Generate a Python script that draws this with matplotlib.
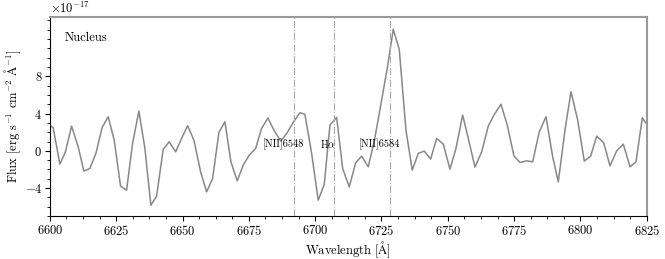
import matplotlib
matplotlib.use("Agg")
import matplotlib.pyplot as plt
import numpy as np
from matplotlib.ticker import AutoMinorLocator, MultipleLocator

plt.rcParams['font.family'] = 'serif'
plt.rcParams['font.serif'] = ['cmr10', 'DejaVu Serif']
plt.rcParams['mathtext.fontset'] = 'cm'
plt.rcParams['axes.formatter.use_mathtext'] = True
plt.rcParams['font.size'] = 9

# spectrum (flux in units of 1e-17)
wave = [6598.87, 6601.24, 6603.77, 6605.84, 6608.18, 6610.67, 6612.82, 6615.08,
        6617.35, 6619.72, 6621.98, 6624.25, 6626.66, 6628.92, 6631.18, 6633.56,
        6635.82, 6638.08, 6640.23, 6642.72, 6644.98, 6647.40, 6649.66, 6651.92,
        6654.30, 6656.83, 6659.09, 6661.35, 6663.73, 6665.99, 6668.25, 6670.63,
        6672.89, 6675.15, 6677.56, 6679.83, 6682.20, 6684.65, 6687.10, 6689.37,
        6691.82, 6694.27, 6696.15, 6698.68, 6701.17, 6703.43, 6705.58, 6708.11,
        6710.37, 6712.86, 6715.27, 6717.53, 6720.02, 6722.36, 6724.81, 6727.26,
        6729.45, 6731.71, 6734.24, 6736.61, 6738.88, 6741.14, 6743.55, 6745.81,
        6748.30, 6750.83, 6753.09, 6755.62, 6757.73, 6760.26, 6762.78, 6765.27,
        6767.42, 6770.06, 6772.44, 6774.96, 6777.22, 6779.75, 6782.01, 6784.50,
        6787.03, 6789.56, 6791.67, 6794.19, 6796.46, 6798.98, 6801.47, 6803.88,
        6806.15, 6808.79, 6811.16, 6813.69, 6816.18, 6818.70, 6820.97, 6823.34,
        6825.71]
flux = [2.98, 2.49, -1.43, -0.14, 2.66, 0.43, -2.18, -1.89,
        -0.28, 2.52, 3.66, 1.15, -3.80, -4.23, 0.80, 4.27,
        0.26, -5.84, -4.87, 0.15, 0.97, -0.11, 1.33, 2.69,
        1.15, -2.26, -4.41, -2.97, 1.98, 3.12, -1.18, -3.23,
        -1.54, -0.46, 0.26, 2.41, 3.52, 2.12, 1.04, 1.90,
        3.09, 4.09, 3.91, -0.28, -5.30, -3.61, 2.76, 3.59,
        -1.89, -3.87, -1.29, -0.57, -1.72, 1.15, 5.02, 9.00,
        13.05, 10.90, 2.23, -2.08, -0.28, -0.03, -0.89, 1.33,
        0.72, -1.97, 0.26, 3.84, 1.33, -1.75, -0.11, 2.66,
        3.84, 4.99, 2.76, -0.57, -1.25, -1.08, -1.18, 2.04,
        3.66, -0.65, -3.33, 2.23, 6.34, 3.30, -1.11, -0.57,
        1.58, 0.86, -1.61, 0.00, 0.72, -1.72, -1.18, 3.55,
        2.55]

z = 0.0220
line_rest = [6548.05, 6562.80, 6583.45]
line_names = ['[NII]6548', r'H$\alpha$', '[NII]6584']
label_shift = [-4.0, -2.5, -4.0]

wave = np.array(wave)
flux = np.array(flux) * 1e-17

fig = plt.figure(figsize=(6.65, 2.59), dpi=100)
ax = fig.add_axes([0.075, 0.166, 0.8975, 0.7695])

ax.plot(wave, flux, color='#888888', lw=1.1)

for lam, name, dx in zip(line_rest, line_names, label_shift):
    lobs = lam * (1 + z)
    ax.axvline(lobs, color='#aaaaaa', ls='-.', lw=0.8)
    ax.text(lobs + dx, 0.7e-17, name, ha='center', va='center', fontsize=7.5)

ax.text(0.025, 0.895, 'Nucleus', transform=ax.transAxes, ha='left', va='center', fontsize=9)

ax.set_xlim(6600, 6825)
ax.set_ylim(-7.0e-17, 14.4e-17)
ax.set_yticks([-4e-17, 0, 4e-17, 8e-17])
ax.yaxis.set_minor_locator(MultipleLocator(1e-17))
ax.xaxis.set_minor_locator(AutoMinorLocator(4))
ax.tick_params(which='major', length=3.5, pad=2)
ax.tick_params(which='minor', length=2)

for s in ['top', 'right']:
    ax.spines[s].set_color('#999999')
    ax.spines[s].set_linewidth(1.5)

ax.set_xlabel(r'Wavelength [$\mathrm{\AA}$]', fontsize=9, labelpad=1)
ax.set_ylabel(r'Flux [erg s$^{-1}$ cm$^{-2}$ $\mathrm{\AA}^{-1}$]', fontsize=9, labelpad=1)

fig.savefig('out.png', dpi=100)
